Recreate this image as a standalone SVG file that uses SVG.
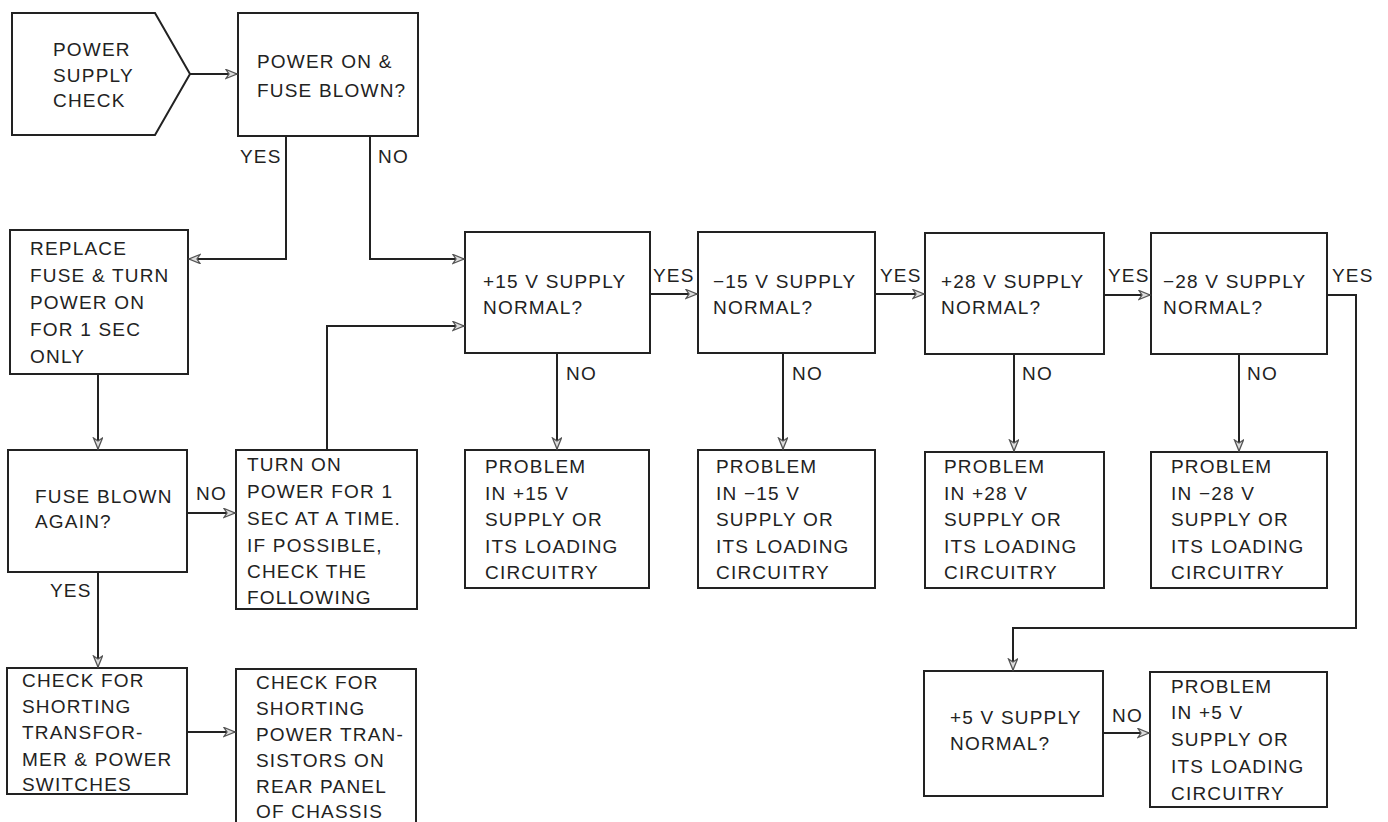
<svg xmlns="http://www.w3.org/2000/svg" width="1388" height="822" viewBox="0 0 1388 822">
<style>
.box{fill:none;stroke:#222;stroke-width:2}
.t{font-family:"Liberation Sans",Arial,sans-serif;font-size:19px;letter-spacing:1.2px;fill:#222}
.c{fill:none;stroke:#222;stroke-width:2}
</style>
<defs>
<marker id="ah" markerUnits="userSpaceOnUse" markerWidth="14" markerHeight="12" refX="12" refY="5" orient="auto">
<path d="M1,0.5 L12,5 L1,9.5 L4,5 z" fill="#ddd" stroke="#555" stroke-width="1.3"/>
</marker>
</defs>
<rect width="1388" height="822" fill="#fff"/>

<g id="start">
<path class="box" d="M12,13 H155 L190,74 L155,135 H12 Z"/>
<text class="t" x="53" y="56">POWER</text>
<text class="t" x="53" y="82">SUPPLY</text>
<text class="t" x="53" y="107">CHECK</text>
</g>
<g id="q-fuse">
<rect class="box" x="238" y="13" width="180" height="123"/>
<text class="t" x="257" y="68">POWER ON &amp;</text>
<text class="t" x="257" y="97">FUSE BLOWN?</text>
</g>
<g id="replace">
<rect class="box" x="10" y="230" width="178" height="144"/>
<text class="t" x="30" y="255">REPLACE</text>
<text class="t" x="30" y="282">FUSE &amp; TURN</text>
<text class="t" x="30" y="309">POWER ON</text>
<text class="t" x="30" y="336">FOR 1 SEC</text>
<text class="t" x="30" y="363">ONLY</text>
</g>
<g id="q-again">
<rect class="box" x="8" y="450" width="179" height="122"/>
<text class="t" x="35" y="503">FUSE BLOWN</text>
<text class="t" x="35" y="528">AGAIN?</text>
</g>
<g id="turn-on">
<rect class="box" x="236" y="450" width="181" height="159"/>
<text class="t" x="247" y="471">TURN ON</text>
<text class="t" x="247" y="498">POWER FOR 1</text>
<text class="t" x="247" y="525">SEC AT A TIME.</text>
<text class="t" x="247" y="552">IF POSSIBLE,</text>
<text class="t" x="247" y="578">CHECK THE</text>
<text class="t" x="247" y="604">FOLLOWING</text>
</g>
<g id="check-transformer">
<rect class="box" x="7" y="668" width="180" height="126"/>
<text class="t" x="22" y="687">CHECK FOR</text>
<text class="t" x="22" y="713">SHORTING</text>
<text class="t" x="22" y="739">TRANSFOR-</text>
<text class="t" x="22" y="766">MER &amp; POWER</text>
<text class="t" x="22" y="791">SWITCHES</text>
</g>
<g id="check-transistors">
<rect class="box" x="236" y="669" width="180" height="170"/>
<text class="t" x="256" y="689">CHECK FOR</text>
<text class="t" x="256" y="715">SHORTING</text>
<text class="t" x="256" y="741">POWER TRAN-</text>
<text class="t" x="256" y="767">SISTORS ON</text>
<text class="t" x="256" y="793">REAR PANEL</text>
<text class="t" x="256" y="818">OF CHASSIS</text>
</g>
<g id="q-p15">
<rect class="box" x="465" y="232" width="185" height="121"/>
<text class="t" x="483" y="288">+15 V SUPPLY</text>
<text class="t" x="483" y="314">NORMAL?</text>
</g>
<g id="q-m15">
<rect class="box" x="698" y="232" width="177" height="121"/>
<text class="t" x="713" y="288">−15 V SUPPLY</text>
<text class="t" x="713" y="314">NORMAL?</text>
</g>
<g id="q-p28">
<rect class="box" x="925" y="233" width="179" height="121"/>
<text class="t" x="941" y="288">+28 V SUPPLY</text>
<text class="t" x="941" y="314">NORMAL?</text>
</g>
<g id="q-m28">
<rect class="box" x="1151" y="233" width="176" height="121"/>
<text class="t" x="1163" y="288">−28 V SUPPLY</text>
<text class="t" x="1163" y="314">NORMAL?</text>
</g>
<g id="p-p15">
<rect class="box" x="465" y="450" width="184" height="138"/>
<text class="t" x="485" y="473">PROBLEM</text>
<text class="t" x="485" y="500">IN +15 V</text>
<text class="t" x="485" y="526">SUPPLY OR</text>
<text class="t" x="485" y="553">ITS LOADING</text>
<text class="t" x="485" y="579">CIRCUITRY</text>
</g>
<g id="p-m15">
<rect class="box" x="698" y="450" width="177" height="138"/>
<text class="t" x="716" y="473">PROBLEM</text>
<text class="t" x="716" y="500">IN −15 V</text>
<text class="t" x="716" y="526">SUPPLY OR</text>
<text class="t" x="716" y="553">ITS LOADING</text>
<text class="t" x="716" y="579">CIRCUITRY</text>
</g>
<g id="p-p28">
<rect class="box" x="925" y="452" width="179" height="136"/>
<text class="t" x="944" y="473">PROBLEM</text>
<text class="t" x="944" y="500">IN +28 V</text>
<text class="t" x="944" y="526">SUPPLY OR</text>
<text class="t" x="944" y="553">ITS LOADING</text>
<text class="t" x="944" y="579">CIRCUITRY</text>
</g>
<g id="p-m28">
<rect class="box" x="1151" y="452" width="176" height="136"/>
<text class="t" x="1171" y="473">PROBLEM</text>
<text class="t" x="1171" y="500">IN −28 V</text>
<text class="t" x="1171" y="526">SUPPLY OR</text>
<text class="t" x="1171" y="553">ITS LOADING</text>
<text class="t" x="1171" y="579">CIRCUITRY</text>
</g>
<g id="q-p5">
<rect class="box" x="924" y="671" width="179" height="125"/>
<text class="t" x="950" y="724">+5 V SUPPLY</text>
<text class="t" x="950" y="750">NORMAL?</text>
</g>
<g id="p-p5">
<rect class="box" x="1150" y="672" width="177" height="135"/>
<text class="t" x="1171" y="693">PROBLEM</text>
<text class="t" x="1171" y="719">IN +5 V</text>
<text class="t" x="1171" y="746">SUPPLY OR</text>
<text class="t" x="1171" y="773">ITS LOADING</text>
<text class="t" x="1171" y="800">CIRCUITRY</text>
</g>

<g id="connectors">
<path class="c" d="M190,74 H237" marker-end="url(#ah)"/>
<path class="c" d="M286,136 V259 H189" marker-end="url(#ah)"/>
<path class="c" d="M370,136 V259 H464" marker-end="url(#ah)"/>
<path class="c" d="M98,374 V449" marker-end="url(#ah)"/>
<path class="c" d="M187,513 H235" marker-end="url(#ah)"/>
<path class="c" d="M327,450 V326 H464" marker-end="url(#ah)"/>
<path class="c" d="M98,572 V667" marker-end="url(#ah)"/>
<path class="c" d="M187,732 H235" marker-end="url(#ah)"/>
<path class="c" d="M650,294 H697" marker-end="url(#ah)"/>
<path class="c" d="M875,294 H924" marker-end="url(#ah)"/>
<path class="c" d="M1104,295 H1150" marker-end="url(#ah)"/>
<path class="c" d="M557,353 V449" marker-end="url(#ah)"/>
<path class="c" d="M783,353 V449" marker-end="url(#ah)"/>
<path class="c" d="M1014,354 V451" marker-end="url(#ah)"/>
<path class="c" d="M1239,354 V451" marker-end="url(#ah)"/>
<path class="c" d="M1327,295 H1356 V628 H1013 V670" marker-end="url(#ah)"/>
<path class="c" d="M1103,733 H1149" marker-end="url(#ah)"/>
<text class="t" x="240" y="163">YES</text>
<text class="t" x="378" y="163">NO</text>
<text class="t" x="196" y="500">NO</text>
<text class="t" x="50" y="597">YES</text>
<text class="t" x="653" y="282">YES</text>
<text class="t" x="880" y="282">YES</text>
<text class="t" x="1108" y="282">YES</text>
<text class="t" x="1332" y="282">YES</text>
<text class="t" x="566" y="380">NO</text>
<text class="t" x="792" y="380">NO</text>
<text class="t" x="1022" y="380">NO</text>
<text class="t" x="1247" y="380">NO</text>
<text class="t" x="1112" y="722">NO</text>
</g>
</svg>
